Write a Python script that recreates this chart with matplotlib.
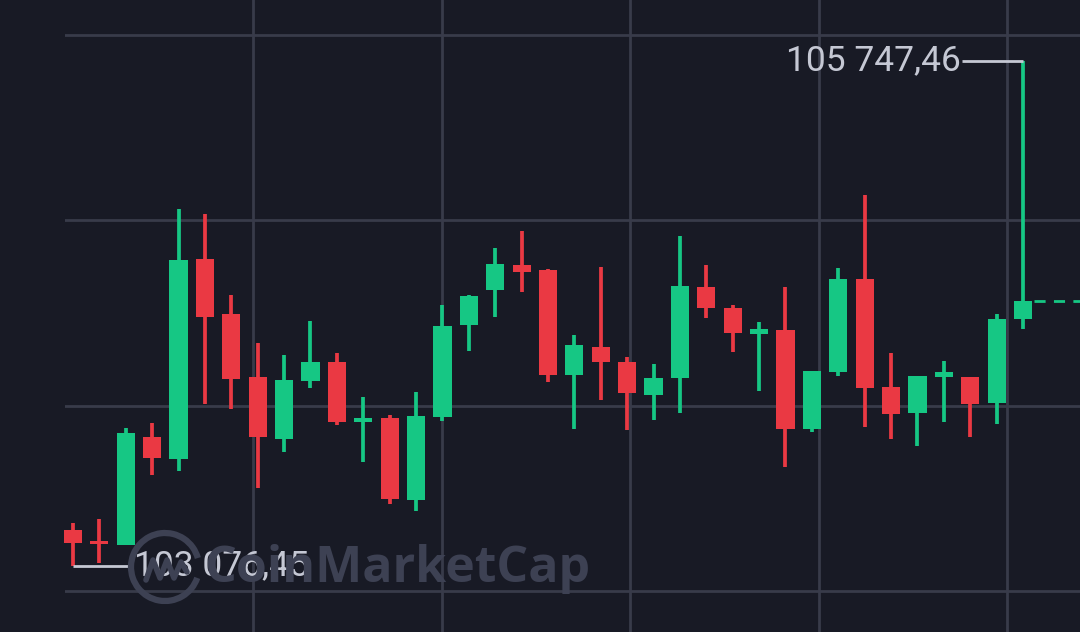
import matplotlib
matplotlib.use("Agg")
import matplotlib.pyplot as plt
from matplotlib.patches import Arc
import numpy as np

# ---- data ----
opens = [103267, 103209, 103188, 103759, 103642, 104700, 104409, 104076, 103748, 104055,
         104155, 103838, 103859, 103425, 103865, 104351, 104536, 104668, 104642, 104086,
         104234, 104155, 103980, 104070, 104552, 104441, 104303, 104325, 103801, 104102,
         104594, 104023, 103885, 104076, 104076, 103938, 104382]
closes = [103198, 103193, 103780, 103648, 104695, 104393, 104065, 103759, 104060, 104155,
          103838, 103859, 103431, 103870, 104346, 104504, 104673, 104631, 104086, 104245,
          104155, 103991, 104070, 104557, 104441, 104309, 104330, 103801, 104108, 104594,
          104018, 103880, 104081, 104102, 103933, 104382, 104478]
highs = [103304, 103325, 103806, 103833, 104965, 104938, 104510, 104256, 104192, 104372,
         104203, 103970, 103875, 103997, 104457, 104510, 104758, 104848, 104647, 104298,
         104657, 104181, 104144, 104821, 104668, 104457, 104367, 104552, 104108, 104652,
         105038, 104203, 104081, 104160, 104076, 104409, 105747.46]
lows = [103076.45, 103092, 103186, 103558, 103579, 103933, 103907, 103489, 103679, 104018,
        103822, 103626, 103404, 103367, 103843, 104213, 104393, 104525, 104049, 103801,
        103954, 103795, 103848, 103885, 104388, 104208, 104002, 103600, 103785, 104081,
        103811, 103748, 103711, 103838, 103759, 103827, 104330]
high_label = "105 747,46"
low_label = "103 076,45"
y_grid = [102944, 103924, 104905, 105885]
x_grid = [6.82, 13.98, 21.1, 28.28, 35.4]

BG = "#181a25"
GRID = "#383b4a"
GREEN = "#16c784"
RED = "#ea3943"
TXT = "#c5c8d4"
WM = "#3d4153"

fig = plt.figure(figsize=(10.8, 6.32), dpi=100)
fig.patch.set_facecolor(BG)
ax = fig.add_axes([65 / 1080, 0, 1015 / 1080, 1])
ax.set_facecolor(BG)
for s in ax.spines.values():
    s.set_visible(False)

n = len(opens)
x = np.arange(n)
ax.set_xlim(-0.303, 38.16)
ax.set_ylim(102727.4, 106070.0)

# grid
ax.set_yticks(y_grid)
ax.set_xticks(x_grid)
ax.tick_params(length=0, labelleft=False, labelbottom=False)
ax.grid(True, color=GRID, linewidth=2.0, zorder=0)

# watermark
fig.text(204 / 1080, 1 - 569 / 632, "CoinMarketCap", fontsize=36, family="Open Sans",
         weight="bold", color=WM, va="center", ha="left", zorder=1)
arc = Arc((165 / 1080, 1 - 567 / 632), 68 / 1080, 68 / 632, theta1=25, theta2=330,
          transform=fig.transFigure, color=WM, lw=4.5, zorder=1)
fig.add_artist(arc)
wx = np.array([146, 153, 160, 167, 174, 181, 187]) / 1080
wy = 1 - np.array([580, 560, 578, 560, 578, 562, 572]) / 632
fig.add_artist(plt.Line2D(wx, wy, transform=fig.transFigure, color=WM, lw=4, zorder=1,
                          solid_joinstyle="round", solid_capstyle="round"))

# candles
colors = [GREEN if c >= o else RED for o, c in zip(opens, closes)]
ax.vlines(x, lows, highs, colors=colors, linewidth=2.7, zorder=3)
bottoms = [min(o, c) for o, c in zip(opens, closes)]
heights = [max(abs(c - o), 18) for o, c in zip(opens, closes)]
ax.bar(x, heights, bottom=bottoms, width=0.69, color=colors, zorder=4, clip_on=False)

# last price dashed line
ax.plot([n - 1 + 0.4, 38.16], [closes[-1], closes[-1]], color=GREEN, lw=2,
        ls=(0, (4, 3)), zorder=3)

# high / low annotations
imax = int(np.argmax(highs))
imin = int(np.argmin(lows))
ax.plot([33.7, imax], [highs[imax], highs[imax]], color=TXT, lw=2, zorder=5,
        solid_capstyle="butt")
ax.text(33.65, highs[imax], high_label, fontsize=25.5, family="Roboto", color=TXT,
        ha="right", va="center", zorder=6)
ax.plot([imin, 2.28], [lows[imin], lows[imin]], color=TXT, lw=2, zorder=5,
        solid_capstyle="butt")
ax.text(2.3, lows[imin], low_label, fontsize=25.5, family="Roboto", color=TXT,
        ha="left", va="center", zorder=6)

fig.savefig("out.png", dpi=100, facecolor=BG)
